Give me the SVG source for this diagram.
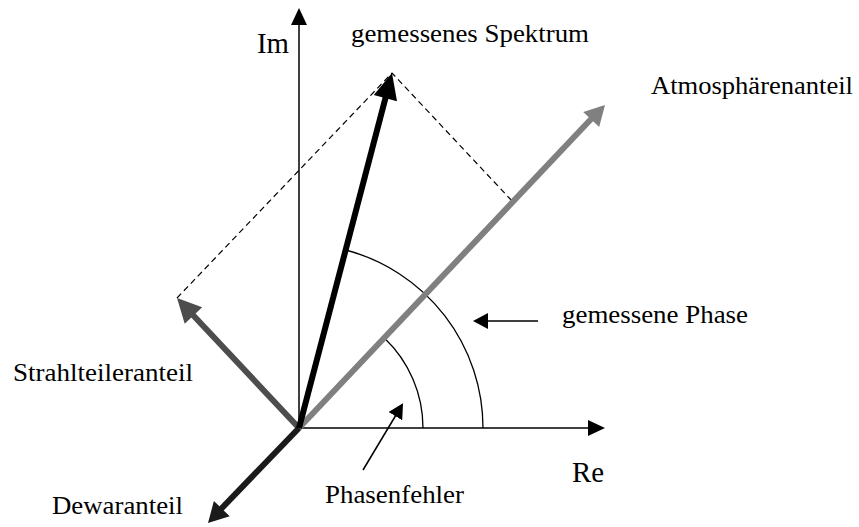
<svg xmlns="http://www.w3.org/2000/svg" width="859" height="527" viewBox="0 0 859 527">
  <style>
    .t { font-family: "Liberation Serif", "Times New Roman", serif; font-size: 25px; fill: #000; }
    .big { font-size: 30px; }
    .thin { stroke: #000; stroke-width: 1.5; fill: none; }
    .dash { stroke: #000; stroke-width: 1.2; fill: none; stroke-dasharray: 6 4; }
    .arc { stroke: #000; stroke-width: 1.3; fill: none; }
  </style>
  <defs>
    <marker id="ah" markerUnits="userSpaceOnUse" markerWidth="17" markerHeight="16" refX="15" refY="8" orient="auto">
      <path d="M0,0 L17,8 L0,16 z" fill="#000"/>
    </marker>
    <marker id="ahs" markerUnits="userSpaceOnUse" markerWidth="15" markerHeight="16" refX="13" refY="8" orient="auto">
      <path d="M0,0 L15,8 L0,16 z" fill="#000"/>
    </marker>
  </defs>
  <rect width="859" height="527" fill="#fff"/>

  <g id="connectors">
    <line id="im-axis" class="thin" x1="299" y1="428" x2="299" y2="10" marker-end="url(#ah)"/>
    <line id="re-axis" class="thin" x1="299" y1="428" x2="603" y2="428" marker-end="url(#ah)"/>
    <path class="dash" d="M177,298 L392,73 L513,202"/>
    <path class="arc" d="M483,428 A184,184 0 0 0 345.7,250"/>
    <path class="arc" d="M423,428 A124,124 0 0 0 384.3,338"/>
    <line class="thin" x1="538" y1="321" x2="475" y2="321" marker-end="url(#ahs)"/>
    <line class="thin" x1="363" y1="470" x2="402" y2="405" marker-end="url(#ahs)"/>
  </g>

  <g id="vec-atmosphaere">
    <line x1="299" y1="428" x2="593" y2="117" stroke="#808080" stroke-width="6"/>
    <polygon points="605,105 599.2,127.1 583.2,111.9" fill="#808080"/>
  </g>
  <g id="vec-strahlteiler">
    <line x1="299" y1="428" x2="192" y2="314" stroke="#4d4d4d" stroke-width="6"/>
    <polygon points="177,298 202.2,307.3 184.7,323.7" fill="#4d4d4d"/>
  </g>
  <g id="vec-dewar">
    <line x1="299" y1="428" x2="220" y2="510" stroke="#1a1a1a" stroke-width="6"/>
    <polygon points="208,523 229.7,516.2 213.9,501" fill="#1a1a1a"/>
  </g>
  <g id="vec-spektrum">
    <line x1="299" y1="428" x2="386" y2="96" stroke="#000" stroke-width="6"/>
    <polygon points="392,73 397,101.2 373.8,95.1" fill="#000"/>
  </g>

  <g id="label-im"><text class="t big" x="257" y="53" textLength="32" lengthAdjust="spacingAndGlyphs">Im</text></g>
  <g id="label-re"><text class="t big" x="572" y="482" textLength="32" lengthAdjust="spacingAndGlyphs">Re</text></g>
  <g id="label-spektrum"><text class="t" x="351" y="42" textLength="238" lengthAdjust="spacingAndGlyphs">gemessenes Spektrum</text></g>
  <g id="label-atmosphaere"><text class="t" x="651" y="94" textLength="202" lengthAdjust="spacingAndGlyphs">Atmosphärenanteil</text></g>
  <g id="label-strahlteiler"><text class="t" x="13" y="381" textLength="180" lengthAdjust="spacingAndGlyphs">Strahlteileranteil</text></g>
  <g id="label-phase"><text class="t" x="562" y="323" textLength="186" lengthAdjust="spacingAndGlyphs">gemessene Phase</text></g>
  <g id="label-dewar"><text class="t" x="52" y="514" textLength="131" lengthAdjust="spacingAndGlyphs">Dewaranteil</text></g>
  <g id="label-phasenfehler"><text class="t" x="325" y="503" textLength="139" lengthAdjust="spacingAndGlyphs">Phasenfehler</text></g>
</svg>
